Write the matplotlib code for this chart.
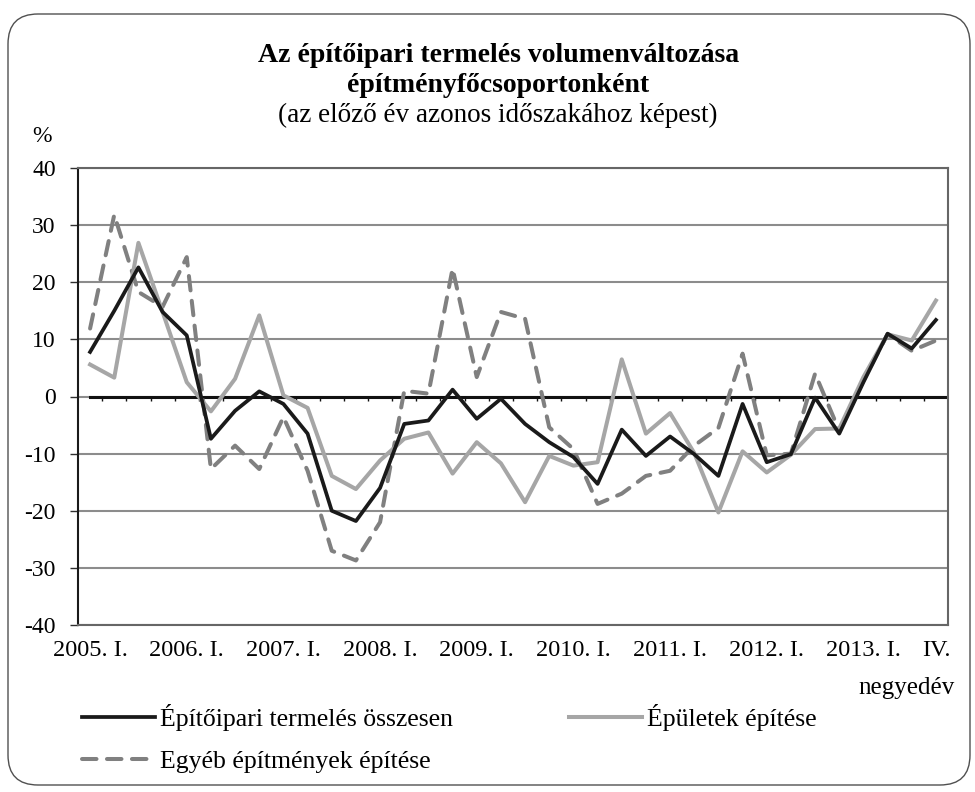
import matplotlib.pyplot as plt
import numpy as np
from matplotlib.patches import FancyBboxPatch

plt.rcParams["font.family"] = ["Liberation Serif", "DejaVu Serif"]

# negyedévek: 2005. I. - 2013. IV.
quarters = np.arange(36)
tick_pos = [0, 4, 8, 12, 16, 20, 24, 28, 32, 35]
tick_labels = ["2005. I.", "2006. I.", "2007. I.", "2008. I.", "2009. I.",
               "2010. I.", "2011. I.", "2012. I.", "2013. I.", "IV."]

total = [7.8, 15.0, 22.6, 14.8, 10.7, -7.4, -2.5, 0.9, -1.3, -6.5,
         -20.0, -21.8, -16.0, -4.8, -4.2, 1.2, -3.9, -0.4, -4.8, -8.0,
         -10.6, -15.3, -5.8, -10.4, -7.0, -10.1, -13.9, -1.3, -11.5, -10.1,
         -0.2, -6.5, 2.5, 11.0, 8.4, 13.4]
buildings = [5.6, 3.3, 26.9, 14.8, 2.5, -2.6, 3.1, 14.2, 0.2, -2.0,
             -13.9, -16.2, -11.2, -7.4, -6.3, -13.5, -8.0, -11.7, -18.5, -10.4,
             -12.1, -11.5, 6.5, -6.5, -2.9, -9.9, -20.3, -9.6, -13.3, -10.2,
             -5.7, -5.6, 3.4, 10.9, 9.8, 16.8]
other = [11.9, 31.8, 18.3, 15.7, 24.4, -12.7, -8.6, -12.7, -3.6, -13.0,
         -27.0, -28.7, -22.0, 1.0, 0.5, 22.4, 3.4, 14.8, 13.6, -5.4,
         -9.2, -18.8, -17.0, -13.9, -13.0, -8.6, -5.5, 7.5, -10.3, -10.0,
         4.0, -6.0, 2.8, 10.9, 8.0, 9.8]

names = ["Építőipari termelés összesen", "Épületek építése",
         "Egyéb építmények építése"]

fig = plt.figure(figsize=(9.75, 7.92), dpi=100)

# lekerekített keret
frame = FancyBboxPatch((0.08, 0.07), 9.62, 7.71,
                       boxstyle="round,pad=0,rounding_size=0.3",
                       transform=fig.dpi_scale_trans, fill=False,
                       edgecolor="#505050", linewidth=1.0)
fig.patches.append(frame)

ax = fig.add_axes([78 / 975, 1 - 625 / 792, 870 / 975, 457 / 792])
ax.set_xlim(-0.5, 35.5)
ax.set_ylim(-40, 40)

ax.set_yticks(np.arange(-40, 41, 10))
ax.set_yticklabels([str(v) for v in range(-40, 41, 10)], fontsize=17)
ax.tick_params(axis="y", length=6, width=1, color="#303030", pad=10)
ax.yaxis.grid(True, color="#8c8c8c", linewidth=1.5)
ax.set_axisbelow(True)

ax.set_xticks(tick_pos)
ax.set_xticklabels(tick_labels, fontsize=17.5)
ax.tick_params(axis="x", length=0, pad=11)

for side in ["top", "right", "bottom"]:
    ax.spines[side].set_color("#666666")
    ax.spines[side].set_linewidth(1.5)
ax.spines["left"].set_color("#1a1a1a")
ax.spines["left"].set_linewidth(1.5)

# nullvonal a kategória-tengely osztásaival
ax.plot([0, 35.5], [0, 0], color="#111111", linewidth=2.2, zorder=2)
ax.vlines(quarters[:-1] + 0.5, -0.75, 0, color="#111111", linewidth=1.0,
          zorder=2)

l_total, = ax.plot(quarters, total, color="#1a1a1a", linewidth=2.7,
                   zorder=5, label=names[0])
l_build, = ax.plot(quarters, buildings, color="#a6a6a6", linewidth=2.9,
                   zorder=4, label=names[1])
l_other, = ax.plot(quarters, other, color="#808080", linewidth=2.9,
                   dashes=(3.6, 2.6), dash_capstyle="round", zorder=3,
                   label=names[2])

fig.text(0.511, 1 - 55 / 792, "Az építőipari termelés volumenváltozása",
         ha="center", va="center", fontsize=20, fontweight="bold")
fig.text(0.511, 1 - 85 / 792, "építményfőcsoportonként",
         ha="center", va="center", fontsize=20, fontweight="bold")
fig.text(0.511, 1 - 115 / 792, "(az előző év azonos időszakához képest)",
         ha="center", va="center", fontsize=19.5)
fig.text(42 / 975, 1 - 137 / 792, "%", ha="center", va="center", fontsize=17)
fig.text(955 / 975, 1 - 688 / 792, "negyedév", ha="right", va="center",
         fontsize=18)

fig.legend(handles=[l_total, l_other, l_build], labels=[names[0], names[2], names[1]],
           loc="upper left", bbox_to_anchor=(82 / 975, 1 - 704 / 792),
           ncol=2, frameon=False, fontsize=18.5, handlelength=2.85,
           handletextpad=0.2, columnspacing=4.5, labelspacing=0.75,
           borderpad=0, borderaxespad=0)

fig.savefig("out.png", dpi=100)
